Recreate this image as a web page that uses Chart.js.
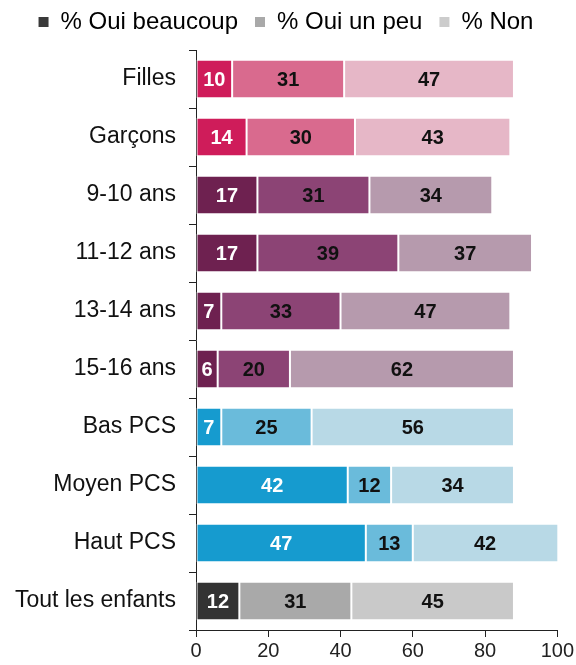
<!DOCTYPE html>
<html lang="fr">
<head>
<meta charset="UTF-8">
<title>Oui beaucoup / Oui un peu / Non</title>
<script src="https://cdn.jsdelivr.net/npm/chart.js@4.4.1/dist/chart.umd.min.js"></script>
<style>
  html, body { margin: 0; padding: 0; background: #fff; }
  #wrap { width: 576px; height: 665px; }
</style>
</head>
<body>
<div id="wrap"><canvas id="chart" width="576" height="665"></canvas></div>
<script>
// --- data ---
const categories = ['Filles', 'Garçons', '9-10 ans', '11-12 ans', '13-14 ans', '15-16 ans',
  'Bas PCS', 'Moyen PCS', 'Haut PCS', 'Tout les enfants'];
const seriesNames = ['% Oui beaucoup', '% Oui un peu', '% Non'];
const ouiBeaucoup = [10, 14, 17, 17, 7, 6, 7, 42, 47, 12];
const ouiUnPeu = [31, 30, 31, 39, 33, 20, 25, 12, 13, 31];
const non = [47, 43, 34, 37, 47, 62, 56, 34, 42, 45];
const xTicks = [0, 20, 40, 60, 80, 100];

// colour per group (dark / mid / light)
const pink = ['#cf1c5a', '#d96a8e', '#e6b7c7'];
const plum = ['#6e2150', '#8c4475', '#b69aad'];
const blue = ['#169bcf', '#6abbdb', '#b8d9e6'];
const grey = ['#333333', '#a9a9a9', '#c9c9c9'];
const rowGroup = [pink, pink, plum, plum, plum, plum, blue, blue, blue, grey];
const legendColors = ['#3a3a3a', '#a9a9a9', '#cccccc'];

const shade = (i) => rowGroup.map(g => g[i]);

// writes each value in the middle of its (visible) segment
const valueLabels = {
  id: 'valueLabels',
  afterDatasetsDraw(chart) {
    const { ctx, chartArea } = chart;
    ctx.save();
    ctx.font = 'bold 20px "Liberation Sans", Arial, sans-serif';
    ctx.textAlign = 'center';
    ctx.textBaseline = 'middle';
    chart.data.datasets.forEach((ds, di) => {
      const meta = chart.getDatasetMeta(di);
      meta.data.forEach((bar, i) => {
        const left = Math.max(Math.min(bar.base, bar.x), chartArea.left);
        const right = Math.min(Math.max(bar.base, bar.x), chartArea.right);
        ctx.fillStyle = di === 0 ? '#ffffff' : '#111111';
        ctx.fillText(String(ds.data[i]), (left + right) / 2, bar.y + 1);
      });
    });
    ctx.restore();
  }
};

// leaves a gap under the legend so the plot starts lower
const legendGap = {
  id: 'legendGap',
  beforeInit(chart) {
    const fit = chart.legend.fit;
    chart.legend.fit = function () {
      fit.call(this);
      this.height = 57;
    };
  }
};

const font = { family: '"Liberation Sans", Arial, sans-serif' };

new Chart(document.getElementById('chart'), {
  type: 'bar',
  data: {
    labels: categories,
    datasets: [ouiBeaucoup, ouiUnPeu, non].map((vals, i) => ({
      label: seriesNames[i],
      data: vals,
      backgroundColor: shade(i),
      borderColor: '#ffffff',
      borderWidth: 1,
      borderSkipped: false,
      barPercentage: 0.66,
      categoryPercentage: 1
    }))
  },
  options: {
    indexAxis: 'y',
    responsive: false,
    animation: false,
    layout: { padding: { top: -7, right: 4, left: 0, bottom: 0 } },
    scales: {
      x: {
        stacked: true,
        min: 0,
        max: 100,
        afterBuildTicks: (scale) => { scale.ticks = xTicks.map(v => ({ value: v })); },
        border: { color: '#222', width: 1 },
        grid: { drawOnChartArea: false, tickLength: 7, color: '#222' },
        ticks: { color: '#222', padding: 2, font: { ...font, size: 20 } }
      },
      y: {
        stacked: true,
        afterFit: (scale) => { scale.width = 196; },
        border: { color: '#222', width: 1 },
        grid: { drawOnChartArea: false, offset: true, tickLength: 7, color: '#222' },
        ticks: { color: '#111', padding: 13, font: { ...font, size: 23 } }
      }
    },
    plugins: {
      tooltip: { enabled: false },
      legend: {
        position: 'top',
        labels: {
          color: '#111',
          font: { ...font, size: 24 },
          boxWidth: 10,
          boxHeight: 10,
          padding: 17,
          generateLabels: (chart) => chart.data.datasets.map((ds, i) => ({
            text: ds.label,
            fillStyle: legendColors[i],
            strokeStyle: legendColors[i],
            lineWidth: 0,
            datasetIndex: i
          }))
        }
      }
    }
  },
  plugins: [legendGap, valueLabels]
});
</script>
</body>
</html>
